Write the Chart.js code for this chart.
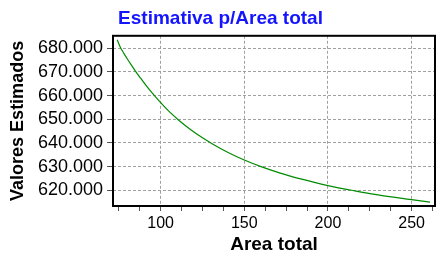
<!DOCTYPE html>
<html>
<head>
<meta charset="utf-8">
<script src="https://cdn.jsdelivr.net/npm/chart.js@4/dist/chart.umd.min.js"></script>
<style>
  html, body { margin: 0; padding: 0; background: #ffffff; }
  canvas { display: block; }
</style>
</head>
<body>
<canvas id="c" width="440" height="264"></canvas>
<script>
// Data
const areaTotal = [74, 76, 78, 80, 82.5, 85, 88, 91, 95, 100, 105, 111, 118, 125, 131, 140, 150, 160, 171, 185, 200, 216, 230, 250, 261];
const valoresEstimados = [683500, 680200, 677800, 675500, 672800, 670200, 667300, 664500, 661000, 657000, 653300, 649500, 645600, 642200, 639600, 636100, 632800, 630000, 627400, 624600, 622000, 619800, 618100, 616100, 615000];
const xTickValues = [75, 87.5, 100, 112.5, 125, 137.5, 150, 162.5, 175, 187.5, 200, 212.5, 225, 237.5, 250, 262.5];
const xLabelValues = [100, 150, 200, 250];
const yTickValues = [620000, 630000, 640000, 650000, 660000, 670000, 680000];
const titleText = 'Estimativa p/Area total';
const xTitle = 'Area total';
const yTitle = 'Valores Estimados';

const FONT = "'Liberation Sans', Arial, sans-serif";
const fmt = v => Math.round(v).toString().replace(/\B(?=(\d{3})+(?!\d))/g, '.');

const boxPlugin = {
  id: 'box',
  afterDraw(chart) {
    const a = chart.chartArea, ctx = chart.ctx;
    ctx.save();
    ctx.strokeStyle = '#000';
    ctx.lineWidth = 2;
    ctx.setLineDash([]);
    ctx.strokeRect(a.left, a.top, a.right - a.left, a.bottom - a.top);
    ctx.restore();
  }
};

new Chart(document.getElementById('c'), {
  type: 'line',
  data: {
    datasets: [{
      data: areaTotal.map((x, i) => ({ x: x, y: valoresEstimados[i] })),
      borderColor: 'rgb(0,140,0)',
      borderWidth: 1.2,
      pointRadius: 0,
      cubicInterpolationMode: 'monotone',
      fill: false
    }]
  },
  options: {
    responsive: false,
    animation: false,
    layout: { padding: { left: 6, right: 5, top: 0, bottom: 0 } },
    plugins: {
      legend: { display: false },
      tooltip: { enabled: false },
      title: {
        display: true,
        text: titleText,
        color: 'rgb(20,20,255)',
        font: { family: FONT, size: 19, weight: 'bold' },
        padding: { top: 7, bottom: 6 }
      }
    },
    scales: {
      x: {
        type: 'linear',
        min: 71.5,
        max: 264,
        afterBuildTicks: s => { s.ticks = xTickValues.map(v => ({ value: v })); },
        afterFit: s => { s.height = 58; },
        ticks: {
          autoSkip: false,
          maxRotation: 0,
          padding: 3,
          color: '#000',
          font: { family: FONT, size: 16 },
          callback: v => (xLabelValues.includes(v) ? String(v) : '')
        },
        grid: {
          color: ctx => (ctx.tick && xLabelValues.includes(ctx.tick.value) ? '#a0a0a0' : 'rgba(0,0,0,0)'),
          tickColor: '#555',
          tickLength: 5,
          lineWidth: 1
        },
        border: { display: false, dash: [3, 2] },
        title: {
          display: true,
          text: xTitle,
          color: '#000',
          font: { family: FONT, size: 19, weight: 'bold' },
          padding: { top: 0, bottom: 8 }
        }
      },
      y: {
        type: 'linear',
        min: 613400,
        max: 685200,
        afterBuildTicks: s => { s.ticks = yTickValues.map(v => ({ value: v })); },
        afterFit: s => { s.width = 107; },
        ticks: {
          autoSkip: false,
          padding: 4,
          color: '#000',
          font: { family: FONT, size: 18 },
          callback: v => fmt(v)
        },
        grid: {
          color: '#a0a0a0',
          tickColor: '#555',
          tickLength: 6,
          lineWidth: 1
        },
        border: { display: false, dash: [3, 2] },
        title: {
          display: true,
          text: yTitle,
          color: '#000',
          font: { family: FONT, size: 18, weight: 'bold' },
          padding: { top: 1, bottom: 0 }
        }
      }
    }
  },
  plugins: [boxPlugin]
});
</script>
</body>
</html>
